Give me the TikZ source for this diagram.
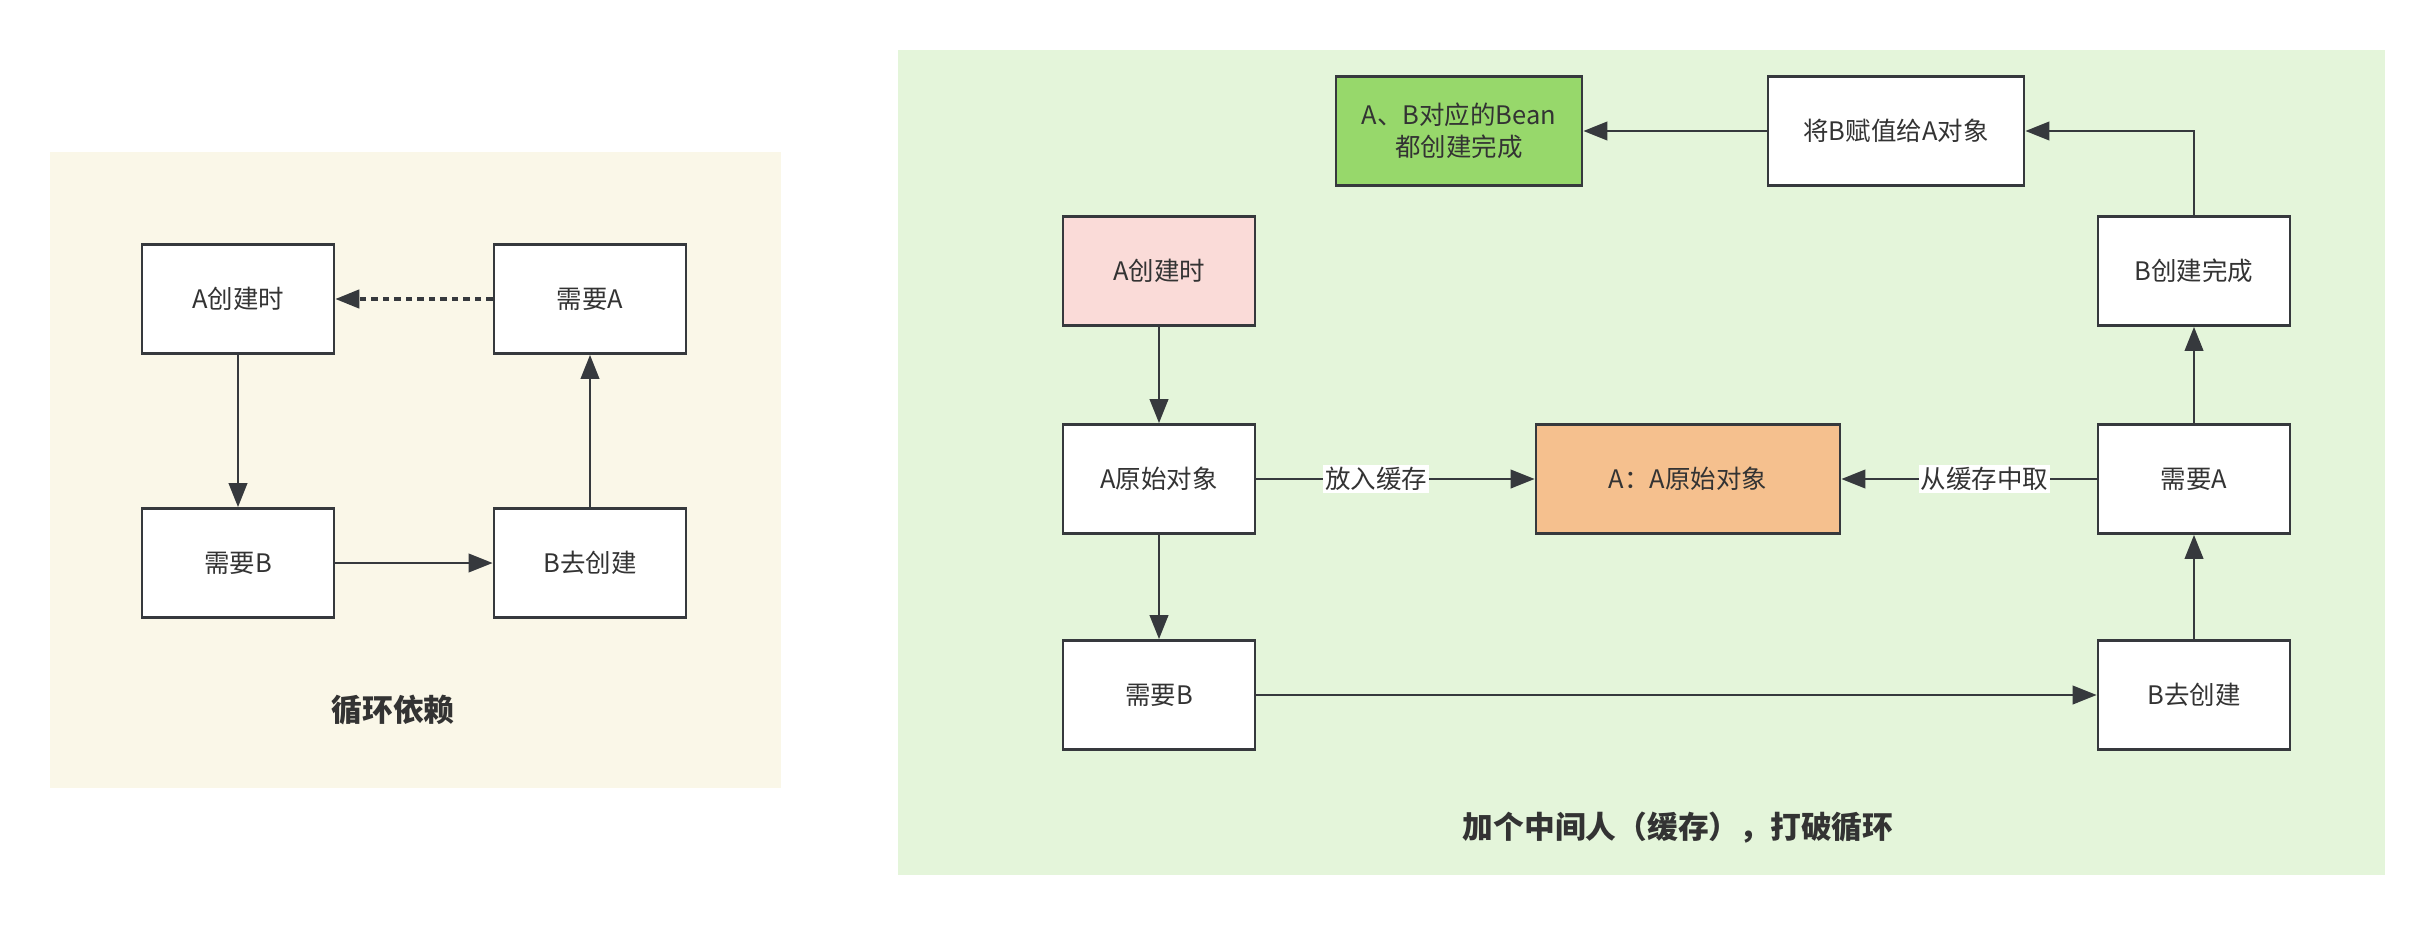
\documentclass[tikz,border=0pt]{standalone}
\usepackage{fontspec}
\setmainfont{Noto Sans CJK SC}
\usepackage{xcolor}
\usetikzlibrary{arrows.meta, positioning}
\definecolor{cdText}{RGB}{51,51,51}
\definecolor{cdBorder}{RGB}{54,57,61}
\definecolor{cdCream}{RGB}{250,247,232}
\definecolor{cdMint}{RGB}{228,245,218}
\definecolor{cdPink}{RGB}{250,219,216}
\definecolor{cdOrange}{RGB}{245,192,142}
\definecolor{cdGreen}{RGB}{151,216,107}

\begin{document}
\begin{tikzpicture}[
    x=0.02cm, y=-0.02cm,
    font=\fontsize{14.5pt}{18pt}\selectfont, text=cdText,
    box/.style={draw=cdBorder, line width=1.6pt, fill=white, align=center,
                minimum width=3.84cm, minimum height=2.18cm},
    arr/.style={-{Triangle[length=0.48cm, width=0.37cm]}, line width=1.4pt,
                draw=cdBorder},
    lbl/.style={fill=white, inner sep=1pt},
    ttl/.style={font=\fontsize{17.5pt}{21pt}\selectfont\bfseries}
]
\useasboundingbox[fill=white] (0,0) rectangle (2436,926);

% panels
\fill[cdCream] (50,152) rectangle (781,788);
\fill[cdMint]  (898,50) rectangle (2385,875);

% left: circular dependency
\node[box] (lA)  at (238,299) {A创建时};
\node[box] (lNA) at (590,299) {需要A};
\node[box] (lNB) at (238,563) {需要B};
\node[box] (lB)  at (590,563) {B去创建};
\node[ttl] (lTitle) at (393,710) {循环依赖};

\draw[arr] (lA) -- (lNB);
\draw[arr] (lNB) -- (lB);
\draw[arr] (lB) -- (lNA);
\draw[arr, line width=1.8pt, dash pattern=on 0.13cm off 0.1cm] (lNA) -- (lA);

% right: with a cache in the middle
\node[box, fill=cdGreen, minimum width=4.92cm] (bean) at (1459,131)
  {A、B对应的Bean\\都创建完成};
\node[box, minimum width=5.12cm] (assign) at (1896,131) {将B赋值给A对象};
\node[box, fill=cdPink] (rA)     at (1159,271)  {A创建时};
\node[box]              (rBdone) at (2194,271)  {B创建完成};
\node[box]              (rAraw)  at (1159,479)  {A原始对象};
\node[box, fill=cdOrange, minimum width=6.08cm] (cache) at (1688,479)
  {A：A原始对象};
\node[box]              (rNA)    at (2194,479)  {需要A};
\node[box]              (rNB)    at (1159,695)  {需要B};
\node[box]              (rB)     at (2194,695)  {B去创建};
\node[ttl] (rTitle) at (1678,828) {加个中间人（缓存），打破循环};

\draw[arr] (rA) -- (rAraw);
\draw[arr] (rAraw) -- (rNB);
\draw[arr] (rAraw) -- node[lbl, pos=0.43]{放入缓存} (cache);
\draw[arr] (rNB) -- (rB);
\draw[arr] (rB) -- (rNA);
\draw[arr] (rNA) -- node[lbl, pos=0.44]{从缓存中取} (cache);
\draw[arr] (rNA) -- (rBdone);
\draw[arr] (rBdone) |- (assign);
\draw[arr] (assign) -- (bean);
\end{tikzpicture}
\end{document}
